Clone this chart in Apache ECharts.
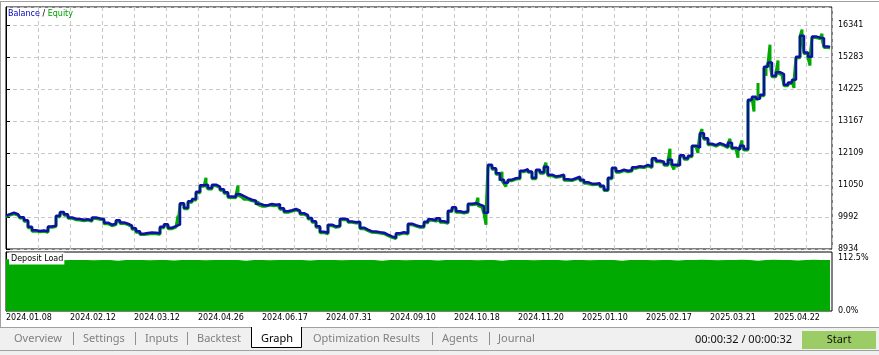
<!DOCTYPE html>
<html><head><meta charset="utf-8">
<script src="https://cdn.jsdelivr.net/npm/echarts@6/dist/echarts.min.js"></script>
<style>html,body{margin:0;padding:0;background:#fff;overflow:hidden}#c{width:879px;height:355px}</style>
</head><body><div id="c"></div>
<script>
// ---- data ----
const dateLabels = ['2024.01.08','2024.02.12','2024.03.12','2024.04.26','2024.06.17','2024.07.31','2024.09.10','2024.10.18','2024.11.20','2025.01.10','2025.02.17','2025.03.21','2025.04.22'];
const tradesPerLabel = 16;
const yTickStart = 8934;
const yTickStep = 1058.2;
const balance = [
10035,10085,10134,10085,9986,9886,9671,9556,9529,9549,
9523,9681,9705,10035,10158,10085,9979,9936,9926,9903,
9919,9880,9979,9946,9926,9804,9738,9771,9886,9814,
9771,9705,9622,9523,9440,9463,9480,9473,9457,9671,
9754,9638,9688,9738,10449,10300,10515,10588,10829,11044,
11060,10951,11060,10994,10912,10812,10673,10664,10746,10680,
10614,10564,10531,10432,10382,10382,10422,10399,10416,10283,
10184,10217,10257,10201,10118,10052,9959,9853,9688,9506,
9473,9738,9681,9705,9936,9919,9847,9820,9837,9638,
9572,9516,9513,9490,9473,9407,9351,9308,9457,9490,
9463,9771,9721,9681,9688,9837,9919,9886,9953,9853,
9814,10201,10316,10184,10151,10184,10432,10449,10399,10349,
10134,11722,11606,11441,11226,11127,11226,11275,11292,11523,
11573,11500,11292,11556,11474,11656,11391,11335,11358,11391,
11242,11226,11275,11325,11226,11143,11094,11094,11110,11027,
10895,11292,11623,11507,11556,11523,11540,11639,11672,11656,
11715,11656,11937,11854,11821,11738,11887,11722,11705,12036,
11937,12019,12350,12284,12764,12598,12416,12367,12433,12383,
12317,12449,12284,12218,12350,12241,13871,13971,13904,14037,
14963,15105,14665,14781,14715,14367,14443,14533,15293,15988,
15436,15293,15965,15922,15905,15634,15614];
const equity = [
10005,10060,10100,10055,9955,9850,9640,9525,9500,9520,
9490,9650,9675,10000,10125,10050,9950,9905,9895,9870,
9890,9850,9945,9915,9895,9770,9705,9740,9850,9780,
9740,9675,9590,9490,9410,9430,9450,9440,9425,9640,
9720,9605,9655,9705,10415,10265,10480,10555,10795,11010,
11030,10920,11025,10960,10880,10780,10640,10630,10715,10650,
10580,10530,10500,10400,10350,10350,10390,10365,10385,10250,
10150,10185,10225,10170,10085,10020,9925,9820,9655,9475,
9440,9705,9650,9675,9905,9885,9815,9790,9805,9605,
9540,9485,9480,9460,9440,9375,9320,9275,9425,9460,
9430,9740,9690,9650,9655,9805,9885,9855,9920,9820,
9780,10170,10285,10150,10120,10150,10400,10415,10370,10315,
10105,11690,11575,11410,11195,11095,11195,11245,11260,11490,
11540,11470,11260,11525,11440,11625,11360,11305,11325,11360,
11210,11195,11245,11295,11195,11110,11060,11065,11080,10995,
10865,11260,11590,11475,11525,11490,11510,11605,11640,11625,
11685,11625,11905,11820,11790,11705,11855,11690,11675,12005,
11905,11985,12320,12255,12735,12565,12385,12335,12400,12350,
12285,12420,12250,12190,12320,12210,13840,13940,13875,14005,
14930,15075,14630,14750,14690,14335,14410,14500,15260,15955,
15400,15265,15930,15890,15875,15600,15580];
// intra-trade equity extremes: trade index and value
const equitySpikeIdx = [43, 50, 58, 63, 118, 120, 124, 125, 135, 150, 166, 167, 173, 174, 181, 183, 184, 187, 188, 190, 191, 193, 197, 199, 201, 204];
const equitySpikeVal = [10030, 11290, 11030, 10510, 10630, 9740, 11490, 11000, 11790, 10806, 12250, 11560, 12110, 12900, 12580, 11950, 12520, 13480, 14420, 14660, 15690, 15170, 14260, 16190, 15000, 16050];
const depositLoad = [
110.4,108.9,108.9,108.5,108.9,108.9,108.2,108.9,108.9,108.9,
108.5,108.9,108.9,107.5,108.9,108.9,108.9,108.5,108.9,108.9,
107.8,108.9,108.9,108.9,108.2,108.9,108.9,108.9,108.9,107.5,
108.9,108.9,108.5,108.9,108.9,108.9,108.9,107.8,108.9,108.9,
108.9,108.2,108.9,108.9,108.9,108.9,107.5,108.9,108.9,108.5,
108.9,108.9,108.9,107.8,108.9,108.9,108.9,108.9,108.2,108.9,
108.9,107.5,108.9,108.9,108.9,108.5,108.9,108.9,108.9,107.8,
108.9,108.9,108.2,108.9,108.9,108.9,107.5,108.9,108.9,108.9,
108.5,108.9,108.9,107.8,108.9,108.9,109.4,108.9,108.2,108.9,
108.9,109.2,108.9,107.5,108.9,109.4,108.9,108.9,107.8,108.9,
109.2,108.9,108.9,108.5];
const depositLabels = [0, 112.5];
const tabs = ['Overview','Settings','Inputs','Backtest','Graph','Optimization Results','Agents','Journal'];
const timerText = '00:00:32 / 00:00:32';

// ---- chart ----
const F = 'DejaVu Sans';
const UF = 'Noto Sans';
const lastIdx = balance.length - 1;
const xMax = lastIdx + 0.5;
const balanceData = balance.map((v, i) => [i, v]);
const equityData = [];
equity.forEach((v, i) => {
  equityData.push([i, v]);
  const k = equitySpikeIdx.indexOf(i);
  if (k >= 0) { equityData.push([i, equitySpikeVal[k]]); equityData.push([i, v]); }
});
const depositData = depositLoad.map((v, i) => [i * 2, v]);

const chart = echarts.init(document.getElementById('c'), null, {renderer: 'canvas'});

const tabX = [14, 83, 145, 197, 261, 313, 442, 498];
const sepX = [73, 135, 187, 432, 489];
const graphic = [
  {type:'line', shape:{x1:0,y1:1.5,x2:879,y2:1.5}, style:{stroke:'#a0a0a0',lineWidth:1}},
  {type:'line', shape:{x1:0.5,y1:1,x2:0.5,y2:327}, style:{stroke:'#a0a0a0',lineWidth:1}},
  {type:'rect', shape:{x:0,y:327,width:879,height:28}, style:{fill:'#f0f0f0'}},
  {type:'line', shape:{x1:0,y1:327.5,x2:879,y2:327.5}, style:{stroke:'#a0a0a0',lineWidth:1}},
  {type:'rect', shape:{x:251,y:327,width:50,height:20}, style:{fill:'#ffffff'}},
  {type:'polyline', shape:{points:[[251.5,327],[251.5,347.5],[301.5,347.5],[301.5,327]]}, style:{stroke:'#000',lineWidth:1,fill:null}},
  {type:'line', shape:{x1:0,y1:350.5,x2:879,y2:350.5}, style:{stroke:'#a0a0a0',lineWidth:1}},
  {type:'rect', shape:{x:802,y:331,width:74,height:18}, style:{fill:'#9ccc65'}},
  {type:'text', x:839, y:340, style:{text:'Start', fill:'#111', font:'11px "'+UF+'"', align:'center', verticalAlign:'middle'}},
  {type:'text', x:792, y:340, style:{text:timerText, fill:'#111', font:'11px "'+UF+'"', align:'right', verticalAlign:'middle'}},
  {type:'text', x:9, y:258.5, z:100, style:{text:'Deposit Load', fill:'#000', font:'8px "'+F+'"', align:'left', verticalAlign:'middle', backgroundColor:'#fff', padding:[2,1,2,2]}}
];
tabs.forEach((t, k) => {
  graphic.push({type:'text', x:tabX[k], y:338.5, style:{text:t, fill: t==='Graph' ? '#000' : '#808080', font:'11px "'+UF+'"', align:'left', verticalAlign:'middle'}});
});
sepX.forEach(x => graphic.push({type:'line', shape:{x1:x+0.5,y1:332,x2:x+0.5,y2:345}, style:{stroke:'#909090',lineWidth:1}}));

const option = {
  animation: false,
  backgroundColor: '#fff',
  title: {
    text: '{b|Balance} / {e|Equity}', left: 8, top: 10, padding: 0,
    textStyle: {fontSize: 8, fontFamily: F, fontWeight: 'normal', color: '#000',
      rich: {b: {color: '#0000c0', fontSize: 8, fontFamily: F}, e: {color: '#00a000', fontSize: 8, fontFamily: F}}}
  },
  grid: [
    {left: 6, right: 47, top: 7, height: 242, show: true, borderColor: '#000', borderWidth: 1, backgroundColor: '#fff', containLabel: false},
    {left: 6, right: 47, top: 252, height: 59, show: true, borderColor: '#000', borderWidth: 1, backgroundColor: '#fff', containLabel: false}
  ],
  xAxis: [
    {type: 'value', gridIndex: 0, min: 0, max: xMax, interval: tradesPerLabel / 2,
      axisLine: {show: false}, axisTick: {show: false}, axisLabel: {show: false},
      splitLine: {show: true, lineStyle: {color: '#c8c8c8', type: [4, 3], width: 1}}},
    {type: 'value', gridIndex: 1, min: 0, max: xMax, interval: tradesPerLabel / 2,
      axisLine: {show: false}, axisTick: {show: false}, splitLine: {show: false},
      axisLabel: {show: true, margin: 3, align: 'left', color: '#000', fontSize: 8, fontFamily: F,
        showMinLabel: true, showMaxLabel: false,
        formatter: v => (Math.abs(v % tradesPerLabel) < 1e-6 && dateLabels[v / tradesPerLabel]) ? dateLabels[v / tradesPerLabel] : ''}}
  ],
  yAxis: [
    {type: 'value', gridIndex: 0, position: 'right', min: yTickStart, max: yTickStart + 242 / 32 * yTickStep, interval: yTickStep,
      axisLine: {show: true, lineStyle: {color: '#000', width: 1}},
      axisTick: {show: true, length: 4, lineStyle: {color: '#000'}},
      axisLabel: {margin: 6, color: '#000', fontSize: 8, fontFamily: F, showMaxLabel: false,
        formatter: v => (v > 16500 ? '' : String(Math.round(v)))},
      splitLine: {show: true, lineStyle: {color: '#c8c8c8', type: [4, 3], width: 1}}},
    {type: 'value', gridIndex: 1, position: 'right', min: 0, max: 112.5 * 59 / 52.7, interval: 112.5,
      axisLine: {show: true, lineStyle: {color: '#000', width: 1}},
      axisTick: {show: false}, splitLine: {show: false},
      axisLabel: {margin: 6, color: '#000', fontSize: 8, fontFamily: F, showMaxLabel: false,
        formatter: v => (depositLabels.some(d => Math.abs(d - v) < 1e-6) ? v.toFixed(1) + '%' : '')}}
  ],
  series: [
    {type: 'line', name: 'Equity', xAxisIndex: 0, yAxisIndex: 0, data: equityData, step: 'middle',
      symbol: 'none', lineStyle: {color: '#00a800', width: 3, join: 'bevel', cap: 'butt'}, z: 2},
    {type: 'line', name: 'Balance', xAxisIndex: 0, yAxisIndex: 0, data: balanceData, step: 'middle',
      symbol: 'none', lineStyle: {color: '#1010a8', width: 2.5, join: 'bevel'}, z: 3},
    {type: 'line', name: 'Deposit Load', xAxisIndex: 1, yAxisIndex: 1, data: depositData, step: 'end',
      symbol: 'none', lineStyle: {width: 0}, areaStyle: {color: '#00aa00', opacity: 1}, z: 2}
  ],
  graphic: graphic
};
chart.setOption(option);
</script></body></html>
